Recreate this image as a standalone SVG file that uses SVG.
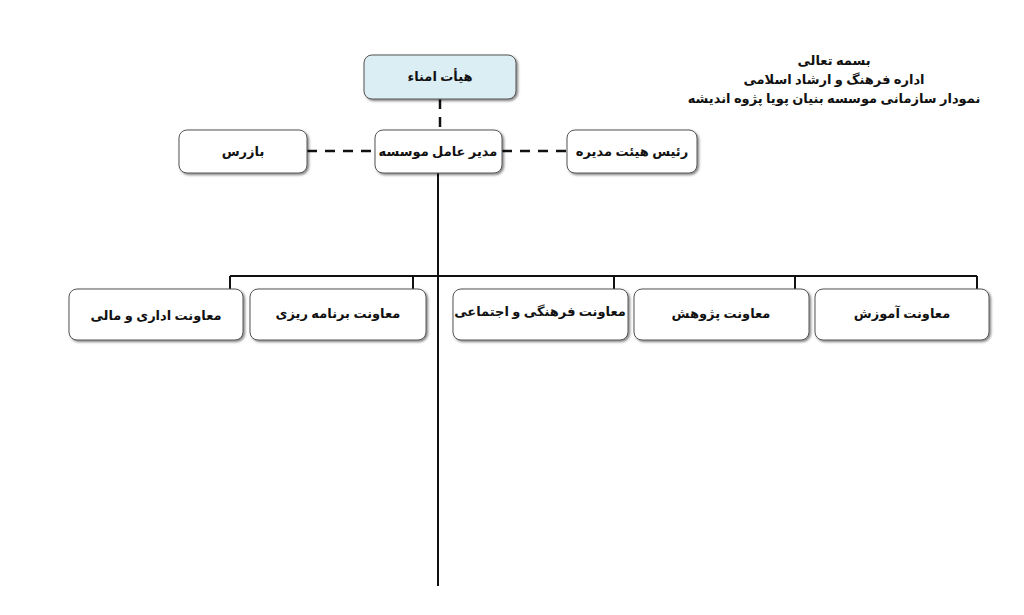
<svg xmlns="http://www.w3.org/2000/svg" width="1024" height="615" viewBox="0 0 1024 615">
<defs>
<filter id="sh" x="-10%" y="-10%" width="130%" height="140%"><feDropShadow dx="1.5" dy="1.5" stdDeviation="0.8" flood-color="#000" flood-opacity="0.5"/></filter>
</defs>
<style>
.b{fill:#fff;stroke:#555;stroke-width:1;filter:url(#sh)}
.t{font-family:"Noto Sans","DejaVu Sans",sans-serif;font-size:13px;font-weight:bold;text-anchor:middle;fill:#111}
.l{stroke:#111;stroke-width:2;fill:none}
.d{stroke:#111;stroke-width:2.5;stroke-dasharray:10,8;fill:none}
</style>
<rect width="1024" height="615" fill="#fff"/>
<g id="connectors">
<path class="d" d="M440 99V130M307 151H375M502 151H567"/>
<path class="l" d="M438 173V586M230 276H977M230 276V290M413 276V290M614 276V290M795 276V290M977 276V290"/>
</g>
<g id="n1"><rect class="b" x="364" y="55" width="152" height="44" rx="8" style="fill:#dbeef4"/><text class="t" x="440" y="81">هیأت امناء</text></g>
<g id="n2"><rect class="b" x="375" y="130" width="127" height="43" rx="8"/><text class="t" x="438" y="156">مدیر عامل موسسه</text></g>
<g id="n3"><rect class="b" x="179" y="130" width="128" height="43" rx="8"/><text class="t" x="243" y="156">بازرس</text></g>
<g id="n4"><rect class="b" x="567" y="130" width="130" height="43" rx="8"/><text class="t" x="632" y="156">رئیس هیئت مدیره</text></g>
<g id="n5"><rect class="b" x="69" y="289" width="174" height="51" rx="8"/><text class="t" x="156" y="320">معاونت اداری و مالی</text></g>
<g id="n6"><rect class="b" x="250" y="289" width="176" height="51" rx="8"/><text class="t" x="338" y="318">معاونت برنامه ریزی</text></g>
<g id="n7"><rect class="b" x="453" y="289" width="175" height="51" rx="8"/><text class="t" x="540" y="316">معاونت فرهنگی و اجتماعی</text></g>
<g id="n8"><rect class="b" x="634" y="289" width="175" height="51" rx="8"/><text class="t" x="721" y="318">معاونت پژوهش</text></g>
<g id="n9"><rect class="b" x="815" y="289" width="174" height="51" rx="8"/><text class="t" x="902" y="318">معاونت آموزش</text></g>
<g id="title" class="t">
<text class="t" x="834" y="65">بسمه تعالی</text>
<text class="t" x="834" y="84">اداره فرهنگ و ارشاد اسلامی</text>
<text class="t" x="834" y="103">نمودار سازمانی موسسه بنیان پویا پژوه اندیشه</text>
</g>
</svg>
